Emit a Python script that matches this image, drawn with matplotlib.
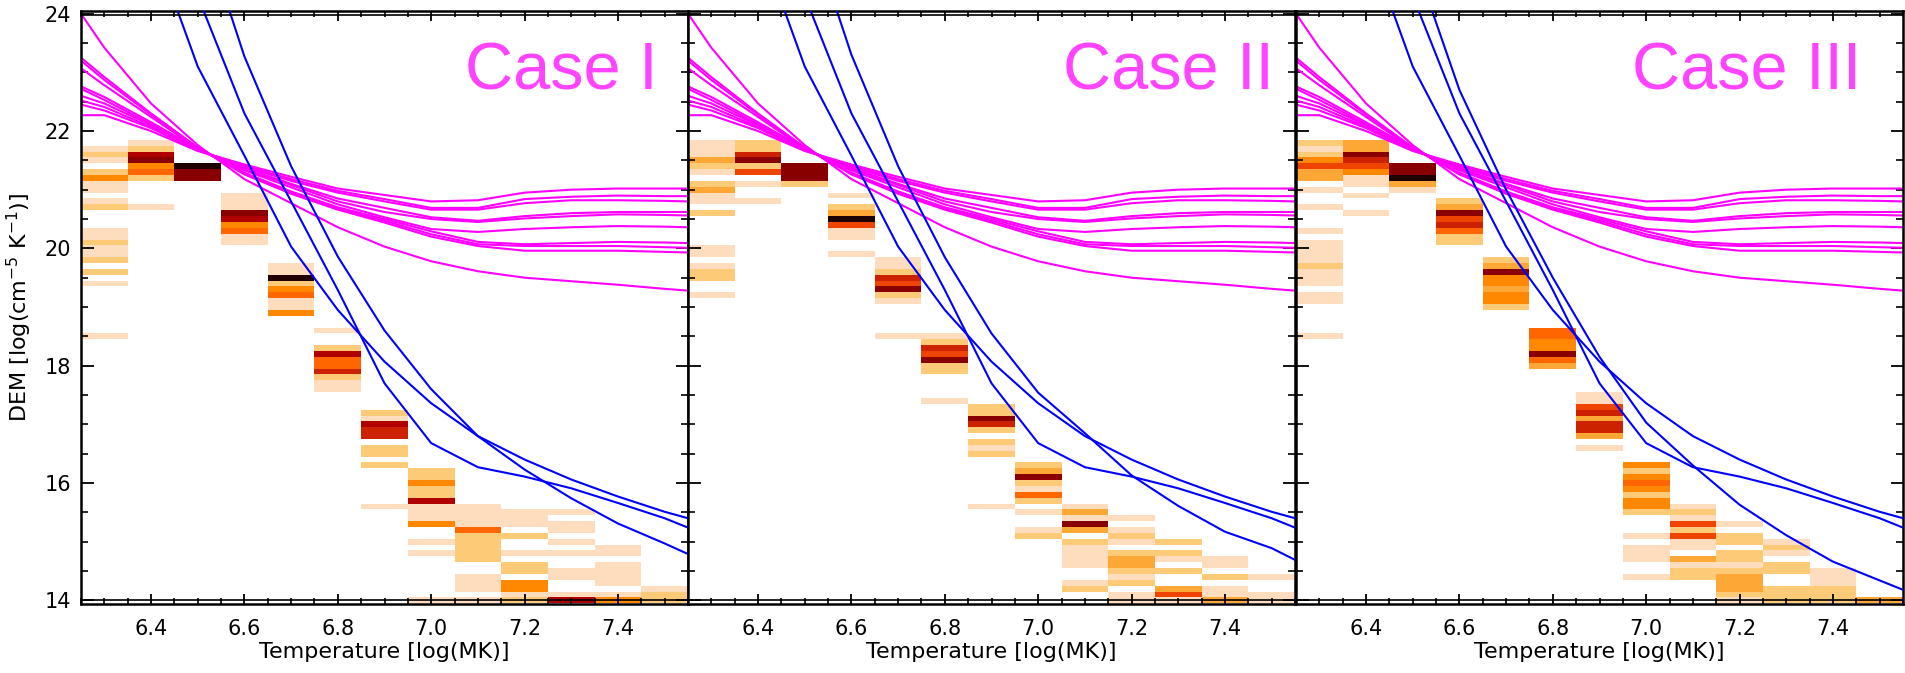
import numpy as np
import matplotlib
matplotlib.use('Agg')
import matplotlib.pyplot as plt
from matplotlib.colors import ListedColormap, BoundaryNorm
from matplotlib.ticker import MultipleLocator, FormatStrFormatter

plt.rcParams['font.family'] = 'DejaVu Sans'
plt.rcParams['font.size'] = 15

# temperature bins (log T) of the DEM histograms
temp_centers = [6.3, 6.4, 6.5, 6.6, 6.7, 6.8, 6.9, 7.0, 7.1, 7.2, 7.3, 7.4, 7.5]

# (temperature, DEM low, DEM high, colour level 1..10), DEM bins of 0.1
case1_bands = [
    (6.3, 21.7, 21.7, 1), (6.3, 21.6, 21.6, 2), (6.3, 21.5, 21.5, 1), (6.3, 21.3, 21.3, 2),
    (6.3, 21.2, 21.2, 4), (6.3, 21.0, 21.1, 1), (6.3, 20.8, 20.8, 1), (6.3, 20.7, 20.7, 2),
    (6.3, 20.2, 20.3, 1), (6.3, 20.1, 20.1, 2), (6.3, 19.9, 20.0, 1), (6.3, 19.8, 19.8, 2),
    (6.3, 19.6, 19.6, 2), (6.3, 19.4, 19.4, 1), (6.3, 18.5, 18.5, 1),
    (6.4, 21.8, 21.8, 1), (6.4, 21.7, 21.7, 2), (6.4, 21.6, 21.6, 8), (6.4, 21.5, 21.5, 9),
    (6.4, 21.4, 21.4, 4), (6.4, 21.3, 21.3, 5), (6.4, 21.2, 21.2, 2), (6.4, 20.7, 20.7, 1),
    (6.5, 21.4, 21.4, 10), (6.5, 21.2, 21.3, 9),
    (6.6, 20.7, 20.9, 1), (6.6, 20.6, 20.6, 9), (6.6, 20.5, 20.5, 8), (6.6, 20.4, 20.4, 4),
    (6.6, 20.3, 20.3, 5), (6.6, 20.1, 20.2, 1),
    (6.7, 19.6, 19.7, 1), (6.7, 19.5, 19.5, 10), (6.7, 19.4, 19.4, 2), (6.7, 19.3, 19.3, 4),
    (6.7, 19.2, 19.2, 5), (6.7, 19.0, 19.1, 1), (6.7, 18.9, 18.9, 4),
    (6.8, 18.6, 18.6, 1), (6.8, 18.3, 18.3, 2), (6.8, 18.2, 18.2, 8), (6.8, 18.0, 18.1, 5),
    (6.8, 17.9, 17.9, 7), (6.8, 17.8, 17.8, 2), (6.8, 17.6, 17.7, 1),
    (6.9, 17.2, 17.2, 2), (6.9, 17.1, 17.1, 1), (6.9, 17.0, 17.0, 8), (6.9, 16.8, 16.9, 7),
    (6.9, 16.5, 16.6, 2), (6.9, 16.3, 16.3, 2), (6.9, 15.6, 15.6, 1),
    (7.0, 16.1, 16.2, 2), (7.0, 16.0, 16.0, 4), (7.0, 15.8, 15.9, 2), (7.0, 15.7, 15.7, 8),
    (7.0, 15.4, 15.6, 1), (7.0, 15.3, 15.3, 4), (7.0, 15.0, 15.0, 1), (7.0, 14.8, 14.8, 1),
    (7.0, 14.0, 14.0, 1),
    (7.1, 15.3, 15.6, 1), (7.1, 15.2, 15.2, 5), (7.1, 14.7, 15.1, 2), (7.1, 14.2, 14.4, 1),
    (7.1, 14.0, 14.0, 1),
    (7.2, 15.3, 15.5, 1), (7.2, 15.1, 15.1, 2), (7.2, 14.8, 14.8, 1), (7.2, 14.5, 14.6, 2),
    (7.2, 14.2, 14.3, 4), (7.2, 14.1, 14.1, 1), (7.2, 14.0, 14.0, 2),
    (7.3, 15.5, 15.5, 1), (7.3, 15.2, 15.3, 1), (7.3, 15.0, 15.0, 1), (7.3, 14.8, 14.8, 1),
    (7.3, 14.4, 14.5, 1), (7.3, 14.1, 14.1, 1), (7.3, 14.0, 14.0, 8),
    (7.4, 14.8, 14.9, 1), (7.4, 14.3, 14.6, 1), (7.4, 14.1, 14.1, 1), (7.4, 14.0, 14.0, 4),
    (7.5, 14.2, 14.2, 1), (7.5, 14.0, 14.1, 2),
]

case2_bands = [
    (6.3, 21.6, 21.8, 1), (6.3, 21.5, 21.5, 3), (6.3, 21.4, 21.4, 2), (6.3, 21.3, 21.3, 1),
    (6.3, 21.1, 21.1, 2), (6.3, 21.0, 21.0, 3), (6.3, 20.8, 20.9, 1), (6.3, 20.6, 20.6, 2),
    (6.3, 19.9, 20.0, 1), (6.3, 19.7, 19.7, 1), (6.3, 19.5, 19.6, 2), (6.3, 19.2, 19.2, 1),
    (6.4, 21.7, 21.8, 2), (6.4, 21.6, 21.6, 7), (6.4, 21.5, 21.5, 9), (6.4, 21.4, 21.4, 2),
    (6.4, 21.3, 21.3, 6), (6.4, 21.1, 21.1, 1), (6.4, 20.8, 20.8, 1),
    (6.5, 21.2, 21.4, 9), (6.5, 21.1, 21.1, 2),
    (6.6, 20.9, 20.9, 1), (6.6, 20.7, 20.7, 2), (6.6, 20.6, 20.6, 3), (6.6, 20.5, 20.5, 10),
    (6.6, 20.4, 20.4, 6), (6.6, 20.2, 20.3, 1), (6.6, 19.9, 19.9, 1),
    (6.7, 19.7, 19.8, 1), (6.7, 19.6, 19.6, 2), (6.7, 19.5, 19.5, 7), (6.7, 19.4, 19.4, 6),
    (6.7, 19.3, 19.3, 9), (6.7, 19.2, 19.2, 2), (6.7, 19.1, 19.1, 1), (6.7, 18.5, 18.5, 1),
    (6.8, 18.5, 18.5, 1), (6.8, 18.4, 18.4, 2), (6.8, 18.3, 18.3, 7), (6.8, 18.2, 18.2, 6),
    (6.8, 18.1, 18.1, 9), (6.8, 17.9, 18.0, 2), (6.8, 17.4, 17.4, 1),
    (6.9, 17.2, 17.3, 2), (6.9, 17.1, 17.1, 9), (6.9, 17.0, 17.0, 7), (6.9, 16.9, 16.9, 2),
    (6.9, 16.7, 16.7, 2), (6.9, 16.6, 16.6, 1), (6.9, 16.5, 16.5, 2), (6.9, 15.6, 15.6, 1),
    (7.0, 16.3, 16.3, 2), (7.0, 16.2, 16.2, 3), (7.0, 16.1, 16.1, 9), (7.0, 16.0, 16.0, 2),
    (7.0, 15.9, 15.9, 1), (7.0, 15.8, 15.8, 5), (7.0, 15.7, 15.7, 2), (7.0, 15.5, 15.5, 1),
    (7.0, 15.2, 15.2, 1), (7.0, 15.1, 15.1, 2),
    (7.1, 15.6, 15.6, 1), (7.1, 15.5, 15.5, 3), (7.1, 15.4, 15.4, 1), (7.1, 15.3, 15.3, 9),
    (7.1, 15.2, 15.2, 3), (7.1, 15.0, 15.0, 2), (7.1, 14.6, 14.9, 1), (7.1, 14.3, 14.3, 1),
    (7.1, 14.2, 14.2, 2),
    (7.2, 15.4, 15.4, 1), (7.2, 15.2, 15.2, 1), (7.2, 15.1, 15.1, 2), (7.2, 15.0, 15.0, 1),
    (7.2, 14.8, 14.8, 2), (7.2, 14.6, 14.7, 3), (7.2, 14.5, 14.5, 2), (7.2, 14.4, 14.4, 1),
    (7.2, 14.3, 14.3, 2), (7.2, 14.0, 14.1, 1),
    (7.3, 15.0, 15.0, 2), (7.3, 14.8, 14.8, 2), (7.3, 14.7, 14.7, 1), (7.3, 14.5, 14.5, 2),
    (7.3, 14.2, 14.2, 3), (7.3, 14.1, 14.1, 6), (7.3, 14.0, 14.0, 1),
    (7.4, 14.6, 14.7, 1), (7.4, 14.4, 14.4, 2), (7.4, 14.1, 14.2, 1), (7.4, 14.0, 14.0, 3),
    (7.5, 14.4, 14.4, 1), (7.5, 14.0, 14.1, 1),
]

case3_bands = [
    (6.3, 21.8, 21.8, 2), (6.3, 21.7, 21.7, 1), (6.3, 21.6, 21.6, 2), (6.3, 21.5, 21.5, 4),
    (6.3, 21.4, 21.4, 6), (6.3, 21.2, 21.3, 3), (6.3, 21.0, 21.0, 1), (6.3, 20.7, 20.7, 1),
    (6.3, 20.3, 20.3, 1), (6.3, 19.8, 20.1, 1), (6.3, 19.7, 19.7, 2), (6.3, 19.4, 19.6, 1),
    (6.3, 19.1, 19.2, 1), (6.3, 18.5, 18.5, 1),
    (6.4, 21.7, 21.8, 3), (6.4, 21.6, 21.6, 9), (6.4, 21.5, 21.5, 7), (6.4, 21.4, 21.4, 6),
    (6.4, 21.3, 21.3, 4), (6.4, 21.1, 21.2, 1), (6.4, 20.9, 20.9, 1), (6.4, 20.6, 20.6, 1),
    (6.5, 21.3, 21.4, 9), (6.5, 21.2, 21.2, 10), (6.5, 21.1, 21.1, 3), (6.5, 21.0, 21.0, 1),
    (6.6, 20.8, 20.8, 2), (6.6, 20.7, 20.7, 3), (6.6, 20.6, 20.6, 9), (6.6, 20.5, 20.5, 6),
    (6.6, 20.4, 20.4, 7), (6.6, 20.3, 20.3, 5), (6.6, 20.1, 20.2, 2),
    (6.7, 19.8, 19.8, 2), (6.7, 19.7, 19.7, 3), (6.7, 19.6, 19.6, 9), (6.7, 19.4, 19.5, 4),
    (6.7, 19.3, 19.3, 3), (6.7, 19.1, 19.2, 4), (6.7, 19.0, 19.0, 2),
    (6.8, 18.5, 18.6, 5), (6.8, 18.3, 18.4, 4), (6.8, 18.2, 18.2, 9), (6.8, 18.1, 18.1, 5),
    (6.8, 18.0, 18.0, 3),
    (6.9, 17.4, 17.5, 1), (6.9, 17.3, 17.3, 6), (6.9, 17.2, 17.2, 7), (6.9, 17.1, 17.1, 3),
    (6.9, 16.9, 17.0, 7), (6.9, 16.8, 16.8, 3), (6.9, 16.6, 16.6, 1),
    (7.0, 16.3, 16.3, 4), (7.0, 16.2, 16.2, 2), (7.0, 16.1, 16.1, 4), (7.0, 16.0, 16.0, 5),
    (7.0, 15.9, 15.9, 4), (7.0, 15.8, 15.8, 2), (7.0, 15.6, 15.7, 4), (7.0, 15.5, 15.5, 2),
    (7.0, 15.1, 15.1, 1), (7.0, 14.7, 14.9, 1), (7.0, 14.4, 14.4, 1),
    (7.1, 15.6, 15.6, 1), (7.1, 15.5, 15.5, 2), (7.1, 15.4, 15.4, 1), (7.1, 15.3, 15.3, 6),
    (7.1, 15.2, 15.2, 2), (7.1, 15.1, 15.1, 6), (7.1, 14.9, 15.0, 1), (7.1, 14.7, 14.7, 3),
    (7.1, 14.6, 14.6, 1), (7.1, 14.4, 14.5, 2),
    (7.2, 15.3, 15.3, 1), (7.2, 15.0, 15.1, 2), (7.2, 14.7, 14.8, 2), (7.2, 14.6, 14.6, 1),
    (7.2, 14.5, 14.5, 2), (7.2, 14.2, 14.4, 3), (7.2, 14.1, 14.1, 2), (7.2, 14.0, 14.0, 1),
    (7.3, 15.0, 15.0, 1), (7.3, 14.9, 14.9, 2), (7.3, 14.8, 14.8, 1), (7.3, 14.5, 14.6, 2),
    (7.3, 14.0, 14.2, 2),
    (7.4, 14.3, 14.5, 1), (7.4, 14.0, 14.2, 2),
    (7.5, 14.0, 14.0, 3),
]

# EM loci curves (magenta), same in every panel
mag_temp = [6.25, 6.3, 6.4, 6.5, 6.6, 6.7, 6.8, 6.9, 7.0, 7.1, 7.2, 7.3, 7.4, 7.5, 7.55]
mag_curves = [
    [24.0, 23.42, 22.47, 21.76, 21.18, 20.77, 20.36, 20.03, 19.78, 19.61, 19.5, 19.44, 19.38, 19.31, 19.28],
    [23.25, 22.92, 22.3, 21.72, 21.26, 20.93, 20.66, 20.44, 20.2, 20.04, 19.96, 19.96, 19.96, 19.94, 19.93],
    [23.2, 22.87, 22.28, 21.72, 21.28, 20.95, 20.68, 20.47, 20.24, 20.07, 20.04, 20.04, 20.04, 20.02, 20.01],
    [23.07, 22.78, 22.24, 21.7, 21.29, 20.97, 20.7, 20.5, 20.29, 20.11, 20.07, 20.09, 20.11, 20.1, 20.09],
    [22.76, 22.58, 22.15, 21.7, 21.33, 21.04, 20.75, 20.53, 20.33, 20.28, 20.33, 20.36, 20.38, 20.37, 20.36],
    [22.72, 22.53, 22.12, 21.69, 21.35, 21.08, 20.8, 20.62, 20.5, 20.45, 20.51, 20.55, 20.58, 20.57, 20.56],
    [22.6, 22.47, 22.1, 21.68, 21.37, 21.1, 20.85, 20.69, 20.53, 20.47, 20.55, 20.6, 20.62, 20.62, 20.62],
    [22.52, 22.41, 22.07, 21.68, 21.39, 21.15, 20.95, 20.8, 20.66, 20.66, 20.77, 20.82, 20.82, 20.81, 20.8],
    [22.45, 22.35, 22.05, 21.67, 21.41, 21.18, 20.98, 20.84, 20.69, 20.69, 20.84, 20.88, 20.9, 20.89, 20.89],
    [22.27, 22.27, 22.0, 21.66, 21.43, 21.22, 21.02, 20.91, 20.8, 20.82, 20.95, 21.0, 21.02, 21.02, 21.02],
]

# DEM solutions (blue)
blue_temp = [6.4, 6.5, 6.6, 6.7, 6.8, 6.9, 7.0, 7.1, 7.2, 7.3, 7.4, 7.5, 7.55]
blue_p = [25.3, 23.1, 21.58, 20.03, 18.95, 18.07, 17.36, 16.8, 16.4, 16.06, 15.77, 15.51, 15.4]
blue_r = [26.4, 24.3, 22.3, 20.8, 19.29, 17.7, 16.68, 16.27, 16.11, 15.91, 15.66, 15.4, 15.24]
blue_q_case1 = [28.0, 25.7, 23.27, 21.4, 19.86, 18.6, 17.6, 16.8, 16.23, 15.74, 15.31, 14.97, 14.79]
blue_q_case2 = [28.0, 25.7, 23.3, 21.4, 19.85, 18.55, 17.54, 16.85, 16.13, 15.61, 15.17, 14.89, 14.69]
blue_q_case3 = [27.0, 25.0, 22.7, 21.0, 19.5, 18.15, 17.03, 16.3, 15.63, 15.11, 14.66, 14.34, 14.18]

case_labels = ['Case I', 'Case II', 'Case III']
case_label_x = [7.485, 7.505, 7.46]

heat_colors = ['#FDDDBD', '#FDCA78', '#FDA737', '#FF8800', '#FF6600',
               '#EE4400', '#CC2200', '#B00000', '#880000', '#1E0000']
cmap = ListedColormap(heat_colors)
norm = BoundaryNorm(np.arange(0.5, 11.0, 1.0), cmap.N)

temp_edges = np.round(np.arange(6.25, 7.56, 0.1), 2)
dem_edges = np.round(np.arange(13.95, 22.06, 0.1), 2)


def band_grid(bands):
    grid = np.zeros((len(dem_edges) - 1, len(temp_centers)))
    for t, lo, hi, lev in bands:
        col = int(round((t - temp_centers[0]) / 0.1))
        r0 = int(round((lo - 14.0) / 0.1))
        r1 = int(round((hi - 14.0) / 0.1))
        grid[r0:r1 + 1, col] = lev
    return np.ma.masked_equal(grid, 0)


fig = plt.figure(figsize=(19.05, 6.73), dpi=100)

panel_left = [81, 688, 1296]
all_bands = [case1_bands, case2_bands, case3_bands]
q_curves = [blue_q_case1, blue_q_case2, blue_q_case3]

for i in range(3):
    ax = fig.add_axes([panel_left[i] / 1905, 0.1027, 607 / 1905, 0.8813])

    ax.pcolormesh(temp_edges, dem_edges, band_grid(all_bands[i]),
                  cmap=cmap, norm=norm, shading='flat', antialiased=False, zorder=1)

    for curve in mag_curves:
        ax.plot(mag_temp, curve, color='#FF00FF', lw=1.5, zorder=2)

    for curve in [blue_p, blue_r, q_curves[i]]:
        ax.plot(blue_temp, curve, color='#0000FF', lw=1.5, zorder=3)

    # inner frame lines of the original plot
    ax.axhline(14.0, color='black', lw=1.2, zorder=4)
    ax.axhline(23.97, color='black', lw=1.2, zorder=4)

    ax.text(case_label_x[i], 22.70, case_labels[i], ha='right', va='baseline',
            fontsize=48, color='#FF44FF', family='Liberation Sans', zorder=5)

    ax.set_xlim(6.25, 7.55)
    ax.set_ylim(13.94, 24.05)

    ax.xaxis.set_major_locator(MultipleLocator(0.2))
    ax.xaxis.set_minor_locator(MultipleLocator(0.05))
    ax.xaxis.set_major_formatter(FormatStrFormatter('%.1f'))
    ax.yaxis.set_major_locator(MultipleLocator(2))
    ax.yaxis.set_minor_locator(MultipleLocator(0.5))

    ax.tick_params(axis='x', which='major', direction='in', length=7, width=1.3,
                   top=True, bottom=True, pad=11, labelsize=15)
    ax.tick_params(axis='x', which='minor', direction='in', length=4, width=1.2,
                   top=True, bottom=True)
    ax.tick_params(axis='y', which='major', direction='in', length=9, width=1.3,
                   left=True, right=True, pad=7, labelsize=15)
    ax.tick_params(axis='y', which='minor', direction='in', length=5, width=1.2,
                   left=True, right=True)

    for side in ax.spines.values():
        side.set_linewidth(1.8)

    ax.set_xlabel('Temperature [log(MK)]', fontsize=16, labelpad=2)
    if i == 0:
        ax.set_ylabel(r'DEM [log(cm$^{-5}$ K$^{-1}$)]', fontsize=16, labelpad=8)
    else:
        ax.set_yticklabels([])

fig.savefig('out.png', dpi=100)
